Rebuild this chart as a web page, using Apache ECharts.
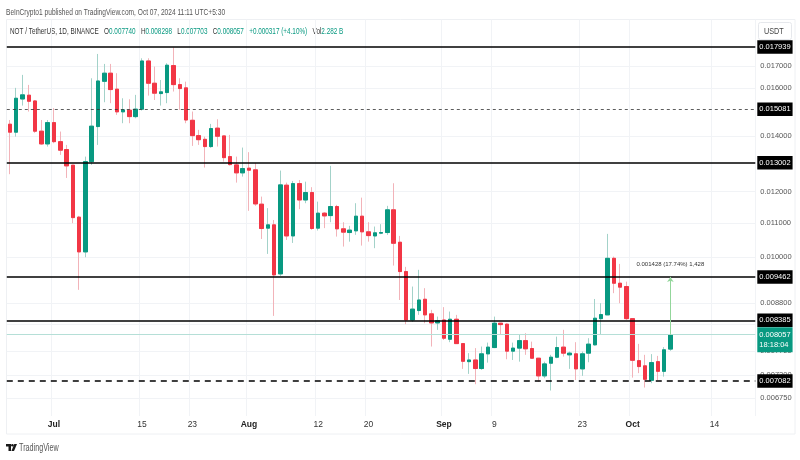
<!DOCTYPE html>
<html>
<head>
<meta charset="utf-8">
<style>html,body{margin:0;padding:0;background:#fff}#c{width:800px;height:460px}</style>
<script src="https://cdn.jsdelivr.net/npm/echarts@6/dist/echarts.min.js"></script>
</head>
<body>
<div id="c"></div>
<script>
const firstDay = '2024-06-24';
const dayCount = 119;
const opens = [.014471,.014154,.015524,.015688,.015438,.014193,.013699,.014535,.013785,.013485,.012912,.011173,.010144,.013040,.014376,.016307,.016678,.015953,.014977,.015048,.014780,.015090,.017255,.016219,.015759,.015803,.017035,.016157,.016011,.014630,.014019,.013875,.013598,.014313,.014007,.013223,.012922,.012639,.012805,.012745,.011584,.010837,.010936,.009542,.012213,.010605,.012266,.011720,.011965,.010837,.011298,.011222,.011508,.010816,.010705,.010756,.011203,.010726,.010605,.010687,.010705,.011403,.010420,.009603,.008393,.008616,.008891,.008537,.008325,.008393,.007955,.008410,.007859,.007474,.007509,.007332,.007638,.007773,.008318,.008295,.007696,.007761,.007924,.007752,.007546,.007184,.007442,.007567,.007782,.007617,.007638,.007325,.007653,.007832,.008424,.008513,.009964,.009297,.009211,.008424,.007495,.007387,.007096,.007474,.007276,.007740];
const closes = [.014154,.015554,.015702,.015426,.014193,.013699,.014535,.013785,.013463,.012887,.011159,.010144,.013040,.014392,.016321,.016678,.015935,.014977,.015061,.014780,.015090,.017255,.016219,.015777,.015834,.017053,.016157,.015980,.014642,.014019,.013861,.013598,.014297,.013996,.013186,.012933,.012639,.012791,.012734,.011593,.010825,.010936,.009515,.012223,.010605,.012266,.011720,.011965,.010825,.011298,.011213,.011508,.010816,.010717,.010777,.011203,.010726,.010614,.010696,.010705,.011403,.010391,.009603,.008393,.008650,.008873,.008513,.008325,.008377,.007978,.008410,.007859,.007482,.007509,.007332,.007638,.007782,.008318,.008286,.007696,.007761,.007924,.007746,.007546,.007184,.007427,.007567,.007773,.007653,.007653,.007325,.007638,.007847,.008434,.008520,.009964,.009297,.009196,.008424,.007503,.007372,.007116,.007454,.007276,.007724,.008057];
const highs = [.014642,.016011,.016600,.016143,.015480,.014642,.014642,.015132,.014178,.013661,.012923,.011213,.013223,.016444,.017596,.017114,.017114,.016678,.015554,.015511,.015702,.017385,.017385,.016988,.016365,.017147,.017915,.016444,.016290,.014990,.014245,.013979,.014483,.014671,.014007,.014047,.013223,.013560,.013388,.012983,.011831,.011457,.011086,.012720,.012300,.012357,.012390,.012333,.012145,.011666,.011330,.012887,.011562,.011017,.010906,.011615,.011797,.011017,.010885,.010957,.011530,.012279,.010605,.009730,.009211,.009650,.009170,.008633,.008472,.008698,.008592,.008513,.007859,.007653,.007761,.007795,.007881,.008472,.008325,.008314,.007881,.008052,.008090,.007902,.007552,.007474,.007617,.008013,.008166,.007687,.007890,.007687,.007978,.008898,.008794,.010665,.010012,.009810,.009338,.008424,.007853,.007617,.007632,.007595,.007782,.008298];
const lows = [.012592,.013979,.015241,.014990,.014126,.013661,.013598,.013725,.013286,.012461,.010987,.009127,.009994,.012922,.013661,.015384,.015342,.014851,.014511,.014511,.014713,.015032,.015670,.015480,.015241,.015342,.015848,.015061,.014511,.013624,.013661,.012827,.013549,.013598,.013040,.012898,.012300,.012508,.011371,.011530,.010515,.010087,.008489,.009488,.010485,.010400,.011425,.011615,.010786,.010765,.010837,.011017,.010585,.010295,.010437,.010636,.010323,.010437,.010249,.010656,.010636,.009765,.008873,.008295,.008348,.008513,.008318,.007795,.008166,.007939,.007890,.007853,.007325,.007224,.007019,.007305,.007454,.007761,.008052,.007524,.007509,.007474,.007617,.007531,.007069,.007137,.006897,.007546,.007580,.007325,.007102,.007184,.007462,.007816,.008052,.008513,.009043,.008794,.008393,.007149,.007239,.006954,.007039,.007102,.007169,.007703];
const yTicks = [.017,.016,.014,.012,.011,.010,.0088,.0083,.0077,.0072,.00675];
const solidLevels = [.017939,.013002,.009462,.008385];
const thinDashedLevel = .015081;
const thickDashedLevel = .007082;
const lastClose = .008057;
const countdown = '18:18:04';
const measureText = '0.001428 (17.74%) 1,428';
const xTickLabels = {'2024-07-01':'Jul','2024-07-15':'15','2024-07-23':'23','2024-08-01':'Aug','2024-08-12':'12','2024-08-20':'20','2024-09-01':'Sep','2024-09-09':'9','2024-09-23':'23','2024-10-01':'Oct','2024-10-14':'14'};
const headerText = 'BeInCrypto1 published on TradingView.com, Oct 07, 2024 11:11 UTC+5:30';
const symbolText = 'NOT / TetherUS, 1D, BINANCE';
const ohlcFields = [['O','0.007740'],['H','0.008298'],['L','0.007703'],['C','0.008057']];
const changeText = '+0.000317 (+4.10%)';
const volumeText = '2.282 B';

const FONT = '"Liberation Sans",sans-serif';
const UP = '#089981', DOWN = '#F23645', UP_WICK = '#a3d2c9', DOWN_WICK = '#f2b3b9';

const categories = [];
{
  const d = new Date(firstDay + 'T00:00:00Z');
  for (let i = 0; i < dayCount; i++) {
    categories.push(d.toISOString().slice(0, 10));
    d.setUTCDate(d.getUTCDate() + 1);
  }
}
const fullCandles = opens.map((o, i) => [o, closes[i], lows[i], highs[i]]);
const bodyCandles = opens.map((o, i) => [o, closes[i], Math.min(o, closes[i]), Math.max(o, closes[i])]);
const tickAt = (i, v) => xTickLabels[v] !== undefined;
const tagLabel = {
  show: true, position: 'end', distance: 2, formatter: p => Number(p.value).toFixed(6),
  color: '#fff', backgroundColor: '#000', padding: [3, 2, 2.5, 2], fontSize: 7.5, fontFamily: FONT
};
const levelLine = (value, type, width, color) => ({
  yAxis: value,
  lineStyle: {color: color || '#000', type, width},
  label: tagLabel
});

const chart = echarts.init(document.getElementById('c'), null, {renderer: 'canvas'});
chart.setOption({
  animation: false,
  backgroundColor: '#fff',
  grid: {left: 6.8, right: 44.7, top: 19.5, bottom: 44, show: false},
  xAxis: {
    type: 'category', data: categories, boundaryGap: true,
    axisLine: {show: false},
    axisTick: {show: false, alignWithLabel: true, interval: tickAt},
    splitLine: {show: true, interval: tickAt, lineStyle: {color: '#f1f3f6', width: 1}},
    axisLabel: {
      interval: tickAt, margin: 4, hideOverlap: false, fontFamily: FONT, fontSize: 8.5, color: '#333',
      formatter: v => {
        const t = xTickLabels[v];
        return /[A-Za-z]/.test(t) ? '{m|' + t + '}' : t;
      },
      rich: {m: {fontFamily: FONT, fontSize: 8.5, fontWeight: 'bold', color: '#222'}}
    }
  },
  yAxis: {
    type: 'log', position: 'right', min: .006425, max: .019366,
    axisLine: {show: false},
    axisTick: {show: false, customValues: yTicks},
    splitLine: {show: true, lineStyle: {color: '#f1f3f6', width: 1}},
    minorTick: {show: false}, minorSplitLine: {show: false},
    axisLabel: {
      customValues: yTicks, margin: 5, fontFamily: FONT, fontSize: 7.5, color: '#555',
      showMinLabel: true, showMaxLabel: true, hideOverlap: false,
      formatter: v => Number(v).toFixed(6)
    }
  },
  graphic: [
    {type: 'rect', silent: true, z: -1, shape: {x: 6.5, y: 19.5, width: 788.5, height: 414.5}, style: {fill: 'none', stroke: '#eef0f3', lineWidth: 1}},
    {type: 'text', silent: true, x: 6, y: 7, scaleX: 0.695, style: {text: headerText, fontFamily: FONT, fontSize: 9.5, fill: '#555'}},
    {type: 'text', silent: true, x: 10, y: 26, scaleX: 0.67, style: {
      text: '{s|' + symbolText + '}   ' + ohlcFields.map(f => '{s|' + f[0] + '}{v|' + f[1] + '}').join('   ') + '   {v|' + changeText + '}   {s|Vol}{v|' + volumeText + '}',
      fontFamily: FONT, fontSize: 9.5,
      rich: {
        s: {fontFamily: FONT, fontSize: 9.5, fill: '#333', color: '#333'},
        v: {fontFamily: FONT, fontSize: 9.5, fill: '#089981', color: '#089981'}
      }
    }},
    {type: 'rect', silent: true, z: 10, shape: {x: 758.5, y: 22.5, width: 33, height: 17, r: 2}, style: {fill: '#fff', stroke: '#e6e8ec', lineWidth: 1}},
    {type: 'text', silent: true, z: 11, x: 764, y: 27, scaleX: 0.85, style: {text: 'USDT', fontFamily: FONT, fontSize: 8.5, fill: '#444'}},
    {type: 'group', silent: true, x: 6, y: 444, children: [
      {type: 'polygon', shape: {points: [[0,0],[5,0],[5,7],[2.5,7],[2.5,2.6],[0,2.6]]}, style: {fill: '#1a1a1a'}},
      {type: 'circle', shape: {cx: 6.4, cy: 1.3, r: 1.3}, style: {fill: '#1a1a1a'}},
      {type: 'polygon', shape: {points: [[8.3,0],[11,0],[8,7],[5.4,7]]}, style: {fill: '#1a1a1a'}}
    ]},
    {type: 'text', silent: true, x: 19, y: 443, scaleX: 0.72, style: {text: 'TradingView', fontFamily: FONT, fontSize: 10, fill: '#555'}}
  ],
  series: [
    {
      name: 'wicks', type: 'candlestick', data: fullCandles, barWidth: 4, z: 2,
      itemStyle: {color: UP, color0: DOWN, borderColor: UP_WICK, borderColor0: DOWN_WICK, borderWidth: 1}
    },
    {
      name: 'bodies', type: 'candlestick', data: bodyCandles, barWidth: 4, z: 3,
      itemStyle: {color: UP, color0: DOWN, borderColor: UP, borderColor0: DOWN, borderWidth: 1},
      markLine: {
        silent: true, symbol: 'none', animation: false, z: 6, precision: 6,
        data: [
          {yAxis: lastClose, lineStyle: {color: '#b5dfd7', type: 'solid', width: 1}, label: {
            show: true, position: 'end', distance: 2, offset: [0, 5],
            formatter: p => Number(p.value).toFixed(6) + '\n' + countdown,
            color: '#fff', backgroundColor: UP, padding: [3, 2, 2, 2], lineHeight: 10, fontSize: 7.5, fontFamily: FONT
          }},
          levelLine(thinDashedLevel, [3, 3], 0.8, '#333'),
          levelLine(thickDashedLevel, [6, 5], 1.6),
          ...solidLevels.map(v => levelLine(v, 'solid', 1.6)),
          [
            {coord: [categories[opens.length - 1], lastClose], symbol: 'none', lineStyle: {color: '#93d69b', type: 'solid', width: 1},
             label: {show: true, position: 'end', distance: 10, formatter: measureText, color: '#333', fontSize: 6, fontFamily: FONT}},
            {coord: [categories[opens.length - 1], solidLevels[2]], symbol: 'arrow', symbolSize: 5}
          ]
        ]
      }
    }
  ]
});
</script>
</body>
</html>
